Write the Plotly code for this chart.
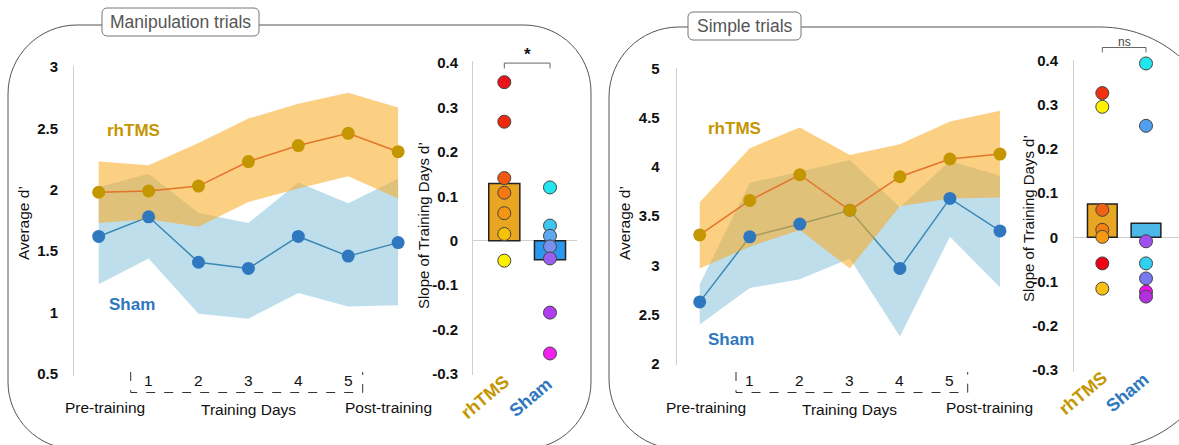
import plotly.graph_objects as go

W, H = 1179, 445
FONT = "Liberation Sans, Arial, sans-serif"

# ---------------- data ----------------
stages = ["Pre-training", "1", "2", "3", "4", "5", "Post-training"]
stage_idx = list(range(len(stages)))
day_labels = ["1", "2", "3", "4", "5"]

# Manipulation trials: average d' per stage (mean and band limits)
man_rh_mean = [1.98, 1.99, 2.03, 2.23, 2.36, 2.46, 2.31]
man_rh_hi = [2.23, 2.20, 2.38, 2.58, 2.70, 2.79, 2.67]
man_rh_lo = [1.73, 1.76, 1.70, 1.90, 2.01, 2.11, 1.93]
man_sh_mean = [1.62, 1.78, 1.41, 1.36, 1.62, 1.46, 1.57]
man_sh_hi = [2.02, 2.13, 1.81, 1.73, 2.06, 1.89, 2.09]
man_sh_lo = [1.23, 1.44, 0.99, 0.95, 1.16, 1.05, 1.06]

# Simple trials: average d' per stage
sim_rh_mean = [3.31, 3.66, 3.92, 3.56, 3.90, 4.08, 4.13]
sim_rh_hi = [3.64, 4.19, 4.40, 4.12, 4.23, 4.46, 4.57]
sim_rh_lo = [2.97, 3.19, 3.36, 2.97, 3.60, 3.68, 3.69]
sim_sh_mean = [2.63, 3.29, 3.42, 3.56, 2.97, 3.68, 3.35]
sim_sh_hi = [2.81, 3.84, 3.95, 4.07, 3.59, 4.06, 3.91]
sim_sh_lo = [2.40, 2.77, 2.86, 3.07, 2.28, 3.29, 2.78]

# Slopes of training days (individual subjects) and group means
groups = ["rhTMS", "Sham"]
man_slope_rh = [0.357, 0.268, 0.141, 0.108, 0.062, 0.015, -0.045]
man_slope_sh = [0.120, 0.034, 0.011, -0.013, -0.040, -0.162, -0.254]
man_slope_mean = [0.129, -0.043]
sim_slope_rh = [0.326, 0.295, 0.062, 0.017, 0.001, -0.059, -0.116]
sim_slope_sh = [0.393, 0.252, -0.009, -0.059, -0.093, -0.123, -0.134]
sim_slope_mean = [0.075, 0.032]

man_rh_colors = ["#e8141a", "#ee2a0c", "#f05812", "#f47712", "#f59612", "#f8c204", "#fff000"]
man_sh_colors = ["#22e6ee", "#3fc6f0", "#5ea8f2", "#7890ee", "#9a5ef0", "#b03ef0", "#f020ee"]
sim_rh_colors = ["#f03010", "#fff000", "#f06012", "#f58010", "#f59a12", "#f00014", "#f8c012"]
sim_sh_colors = ["#22e6ee", "#50a0f0", "#a050f0", "#30d0f0", "#7878f0", "#f010f0", "#b030e0"]

# ---------------- style ----------------
RH_GOLD = "#c49600"
RH_LINE = "#e3742a"
SH_BLUE = "#2f78c0"
SH_LINE = "#3a88b3"
RH_BAND = "rgba(250,170,28,0.55)"
SH_BAND = "#bfdeec"
AX_GRAY = "#cfcfcf"


def px(x):
    return x / W


def py(y):
    return 1 - y / H


# subplot boxes in pixels and axis ranges
axes_cfg = {
    # name: (x0, x1, y0, y1, xrange, yrange)
    "1": (74, 430, 66, 376, [-0.495, 6.639], [0.4837, 3.008]),
    "2": (473, 577, 61, 375, [-0.685, 1.591], [-0.3025, 0.4047]),
    "3": (676.7, 1030, 68, 365, [-0.46, 6.60], [1.99, 5.003]),
    "4": (1074, 1179, 60, 372, [-0.648, 1.755], [-0.3045, 0.4008]),
}


def to_paper(ax, xv, yv):
    x0, x1, y0, y1, xr, yr = axes_cfg[ax]
    xp = x0 + (xv - xr[0]) / (xr[1] - xr[0]) * (x1 - x0)
    yp = y1 - (yv - yr[0]) / (yr[1] - yr[0]) * (y1 - y0)
    return xp, yp


def ref(ax):
    return ("x" if ax == "1" else "x" + ax), ("y" if ax == "1" else "y" + ax)


fig = go.Figure()


def add_line_panel(ax, rh_m, rh_hi, rh_lo, sh_m, sh_hi, sh_lo):
    xa, ya = ref(ax)
    common = dict(xaxis=xa, yaxis=ya, hoverinfo="skip", showlegend=False)
    fig.add_trace(go.Scatter(x=stage_idx, y=sh_lo, mode="lines", line=dict(width=0), **common))
    fig.add_trace(go.Scatter(x=stage_idx, y=sh_hi, mode="lines", line=dict(width=0),
                             fill="tonexty", fillcolor=SH_BAND, **common))
    fig.add_trace(go.Scatter(x=stage_idx, y=sh_m, mode="lines",
                             line=dict(color=SH_LINE, width=1.5), **common))
    fig.add_trace(go.Scatter(x=stage_idx, y=rh_lo, mode="lines", line=dict(width=0), **common))
    fig.add_trace(go.Scatter(x=stage_idx, y=rh_hi, mode="lines", line=dict(width=0),
                             fill="tonexty", fillcolor=RH_BAND, **common))
    fig.add_trace(go.Scatter(x=stage_idx, y=sh_m, mode="markers", cliponaxis=False,
                             marker=dict(color=SH_BLUE, size=13), **common))
    fig.add_trace(go.Scatter(x=stage_idx, y=rh_m, mode="lines+markers", cliponaxis=False,
                             line=dict(color=RH_LINE, width=1.5),
                             marker=dict(color=RH_GOLD, size=13), **common))


def add_bar_panel(ax, means, rh_vals, sh_vals, rh_cols, sh_cols, sham_bar_color):
    xa, ya = ref(ax)
    common = dict(xaxis=xa, yaxis=ya, hoverinfo="skip", showlegend=False)
    fig.add_trace(go.Bar(x=[0, 1], y=means, width=0.68,
                         marker=dict(color=["#e8a623", sham_bar_color],
                                     line=dict(color="#222222", width=1.5)), **common))
    fig.add_trace(go.Scatter(x=[0] * len(rh_vals), y=rh_vals, mode="markers", cliponaxis=False,
                             marker=dict(color=rh_cols, size=13,
                                         line=dict(color="#444444", width=1)), **common))
    fig.add_trace(go.Scatter(x=[1] * len(sh_vals), y=sh_vals, mode="markers", cliponaxis=False,
                             marker=dict(color=sh_cols, size=13,
                                         line=dict(color="#444444", width=1)), **common))


add_line_panel("1", man_rh_mean, man_rh_hi, man_rh_lo, man_sh_mean, man_sh_hi, man_sh_lo)
add_bar_panel("2", man_slope_mean, man_slope_rh, man_slope_sh, man_rh_colors, man_sh_colors, "#2a98ee")
add_line_panel("3", sim_rh_mean, sim_rh_hi, sim_rh_lo, sim_sh_mean, sim_sh_hi, sim_sh_lo)
add_bar_panel("4", sim_slope_mean, sim_slope_rh, sim_slope_sh, sim_rh_colors, sim_sh_colors, "#4cb8ea")

tick_font = dict(family=FONT, size=15, color="#111111", weight="bold")
layout_axes = {}
line_ticks = {
    "1": ([0.5, 1, 1.5, 2, 2.5, 3], ["0.5", "1", "1.5", "2", "2.5", "3"], 12),
    "3": ([2, 2.5, 3, 3.5, 4, 4.5, 5], ["2", "2.5", "3", "3.5", "4", "4.5", "5"], 13),
}
slope_ticks = ([-0.3, -0.2, -0.1, 0, 0.1, 0.2, 0.3, 0.4],
               ["-0.3", "-0.2", "-0.1", "0", "0.1", "0.2", "0.3", "0.4"])
for ax, (x0, x1, y0, y1, xr, yr) in axes_cfg.items():
    xname = "xaxis" if ax == "1" else "xaxis" + ax
    yname = "yaxis" if ax == "1" else "yaxis" + ax
    xa, ya = ref(ax)
    layout_axes[xname] = dict(domain=[px(x0), px(x1)], range=xr, anchor=ya,
                              visible=False, fixedrange=True, automargin=False)
    if ax in line_ticks:
        tv, tt, stand = line_ticks[ax]
        zl = False
    else:
        tv, tt = slope_ticks
        stand = 11 if ax == "2" else 12
        zl = True
    layout_axes[yname] = dict(domain=[py(y1), py(y0)], range=yr, anchor=xa,
                              showgrid=False, zeroline=zl, zerolinecolor=AX_GRAY,
                              zerolinewidth=1, showline=True, linecolor=AX_GRAY,
                              linewidth=1, ticks="", tickvals=tv, ticktext=tt,
                              tickfont=tick_font, ticklabelstandoff=stand,
                              fixedrange=True, automargin=False)

fig.update_layout(**layout_axes)

shapes = []
annotations = []
K = 0.5523


def rounded_path(x0, y0, x1, y1, r_tl, r_tr, r_br, r_bl):
    pts = []

    def P(x, y):
        return f"{px(x):.5f},{py(y):.5f}"

    pts.append(f"M{P(x0 + r_tl, y0)}")
    pts.append(f"L{P(x1 - r_tr, y0)}")
    pts.append(f"C{P(x1 - r_tr + K * r_tr, y0)} {P(x1, y0 + r_tr - K * r_tr)} {P(x1, y0 + r_tr)}")
    pts.append(f"L{P(x1, y1 - r_br)}")
    pts.append(f"C{P(x1, y1 - r_br + K * r_br)} {P(x1 - r_br + K * r_br, y1)} {P(x1 - r_br, y1)}")
    pts.append(f"L{P(x0 + r_bl, y1)}")
    pts.append(f"C{P(x0 + r_bl - K * r_bl, y1)} {P(x0, y1 - r_bl + K * r_bl)} {P(x0, y1 - r_bl)}")
    pts.append(f"L{P(x0, y0 + r_tl)}")
    pts.append(f"C{P(x0, y0 + r_tl - K * r_tl)} {P(x0 + r_tl - K * r_tl, y0)} {P(x0 + r_tl, y0)}")
    pts.append("Z")
    return " ".join(pts)


# panel frames
shapes.append(dict(type="path", xref="paper", yref="paper", layer="below",
                   path=rounded_path(8, 25, 591, 449, 69, 67, 67, 67),
                   line=dict(color="#555555", width=1)))
shapes.append(dict(type="path", xref="paper", yref="paper", layer="below",
                   path=rounded_path(609, 27, 1222, 449, 70, 122, 122, 70),
                   line=dict(color="#555555", width=1)))

# panel title boxes
for (bx0, by0, bx1, by1, label) in [(102, 8, 259, 36, "Manipulation trials"),
                                     (688, 12, 801, 40, "Simple trials")]:
    shapes.append(dict(type="path", xref="paper", yref="paper", layer="below",
                       path=rounded_path(bx0, by0, bx1, by1, 5, 5, 5, 5),
                       fillcolor="white", line=dict(color="#777777", width=1)))
    annotations.append(dict(xref="paper", yref="paper", x=px((bx0 + bx1) / 2), y=py((by0 + by1) / 2),
                            text=label, showarrow=False, xanchor="center", yanchor="middle",
                            font=dict(family=FONT, size=17.5, color="#555555")))


def ann(x, y, text, size, color="#111111", bold=False, angle=0, xref="paper", yref="paper"):
    annotations.append(dict(xref=xref, yref=yref, x=x, y=y, text=text, showarrow=False,
                            xanchor="center", yanchor="middle", textangle=angle,
                            font=dict(family=FONT, size=size, color=color,
                                      weight="bold" if bold else "normal")))


# line panels: labels, day numbers and training-days bracket
for ax, ytitle_x, rh_lab, sh_lab, br in [
    ("1", 23, (133, 131), (132, 304), (130.7, 362.7)),
    ("3", 624, (734, 128), (731, 339), (736, 967.7)),
]:
    xa, ya = ref(ax)
    ann(px(ytitle_x), py(223), "Average d’", 15.5, angle=-90)
    ann(px(rh_lab[0]), py(rh_lab[1]), "rhTMS", 17, color=RH_GOLD, bold=True)
    ann(px(sh_lab[0]), py(sh_lab[1]), "Sham", 17, color=SH_BLUE, bold=True)
    for i, d in enumerate(day_labels, start=1):
        ann(i, py(380), d, 15.5, xref=xa)
    xp0, _ = to_paper(ax, 0, 0)
    xp6, _ = to_paper(ax, 6, 0)
    xpm, _ = to_paper(ax, 3, 0)
    ann(px(xp0 + 6), py(407), stages[0], 15.5)
    ann(px(xpm), py(409), "Training Days", 15.5)
    ann(px(xp6 - 10), py(407), stages[-1], 15.5)
    bx0, bx1 = br
    shapes.append(dict(type="path", xref="paper", yref="paper",
                       path=f"M{px(bx0)},{py(372)} L{px(bx0)},{py(392.5)} "
                            f"L{px(bx1)},{py(392.5)} L{px(bx1)},{py(372)}",
                       line=dict(color="#333333", width=1, dash="dash")))

# slope panels: axis titles, group labels, significance brackets
for ax, ytitle_x, ytitle_y, sig, sig_y, tick_y, sig_size, sig_bold in [
    ("2", 423, 226, "*", 0.400, 0.388, 17, True),
    ("4", 1028, 219, "ns", 0.429, 0.418, 12, False),
]:
    ann(px(ytitle_x), py(ytitle_y), "Slope of Training Days d’", 15, angle=-90)
    for gi, (g, col) in enumerate(zip(groups, [RH_GOLD, SH_BLUE])):
        gx, gy = to_paper(ax, gi, -0.3)
        ann(px(gx - 19), py(gy + 23), g, 18, color=col, bold=True, angle=-40)
    ax0, yb = to_paper(ax, 0, sig_y)
    ax1, _ = to_paper(ax, 1, sig_y)
    _, yt = to_paper(ax, 0, tick_y)
    shapes.append(dict(type="path", xref="paper", yref="paper",
                       path=f"M{px(ax0)},{py(yt)} L{px(ax0)},{py(yb)} L{px(ax1)},{py(yb)} L{px(ax1)},{py(yt)}",
                       line=dict(color="#666666", width=1)))
    ann(px((ax0 + ax1) / 2), py(yb - (9 if sig == "*" else 6)), sig, sig_size,
        color="#111111" if sig == "*" else "#444444", bold=sig_bold)

fig.update_layout(width=W, height=H,
                  margin=dict(l=0, r=0, t=0, b=0, pad=0, autoexpand=False),
                  paper_bgcolor="white", plot_bgcolor="rgba(0,0,0,0)",
                  showlegend=False, barmode="overlay",
                  shapes=shapes, annotations=annotations,
                  font=dict(family=FONT))

fig.write_html("out.html")
